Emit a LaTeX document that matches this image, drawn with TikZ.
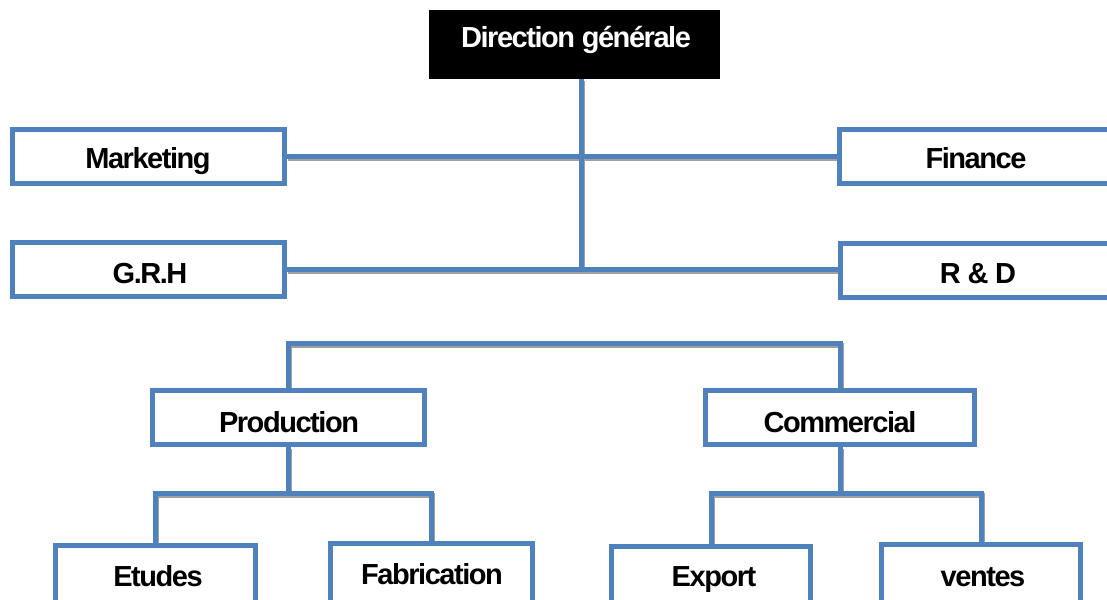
\documentclass[tikz,border=0pt]{standalone}
\usepackage{fontspec}
\setmainfont{Liberation Sans}
\newfontfamily\chartfont{Liberation Sans}[LetterSpace=-5]
\usetikzlibrary{calc}
\definecolor{orgblue}{HTML}{4F81BD}
\definecolor{linkshade}{HTML}{A0A0A0}
\begin{document}
\begin{tikzpicture}[x=1pt,y=-1pt,
  unit/.style={draw=orgblue, line width=5pt, fill=white, rectangle, inner sep=0pt},
  head/.style={fill=black, rectangle, inner sep=0pt},
  caption/.style={font=\chartfont\fontsize{29}{33}\selectfont\bfseries, anchor=base, inner sep=0pt},
  link/.style={draw=orgblue, line width=5pt},
  shade/.style={draw=linkshade, line width=5pt, transform canvas={xshift=1pt, yshift=-2pt}}]

\useasboundingbox (0,0) rectangle (1107,599);
\clip (0,0) rectangle (1107,599);
\fill[white] (0,0) rectangle (1107,599);

% junction points of the connectors
\coordinate (hub) at (581,268);
\coordinate (bar) at (560,343);
\coordinate (pbar) at (288.5,493);
\coordinate (cbar) at (840,493);

% boxes (placed first so connectors can refer to them)
\node[head, minimum width=291, minimum height=69] (dg) at (574.5,44.5) {};
\node[unit, minimum width=272, minimum height=54] (mkt) at (148.5,156.5) {};
\node[unit, minimum width=272, minimum height=54] (grh) at (148.5,269.5) {};
\node[unit, minimum width=273, minimum height=54] (fin) at (976,156.5) {};
\node[unit, minimum width=272, minimum height=54] (rd) at (976.5,270.5) {};
\node[unit, minimum width=272, minimum height=54] (prod) at (288.5,417.5) {};
\node[unit, minimum width=269, minimum height=54] (com) at (840,417.5) {};
\node[unit, minimum width=200, minimum height=70] (etu) at (155.5,580.5) {};
\node[unit, minimum width=202, minimum height=70] (fab) at (431.5,578.5) {};
\node[unit, minimum width=199, minimum height=70] (exp) at (711,581.5) {};
\node[unit, minimum width=199, minimum height=70] (ven) at (981,579.5) {};

% connectors: grey shadow first, then the blue line
\foreach \sty in {shade,link}{
  \path[\sty] (dg.south -| hub) -- (hub);
  \path[\sty] (mkt.east) -- (mkt.east -| fin.west);
  \path[\sty] (grh.east) -- (grh.east -| rd.west);
  \path[\sty] (prod.north) |- (bar) -| (com.north);
  \path[\sty] (prod.south) -- (pbar);
  \path[\sty] (etu.north) |- (pbar) -| (fab.north);
  \path[\sty] (com.south) -- (cbar);
  \path[\sty] (exp.north) |- (cbar) -| (ven.north);
}

% boxes drawn again on top so the line ends tuck under the borders
\node[head, minimum width=291, minimum height=69] at (dg) {};
\node[unit, minimum width=272, minimum height=54] at (mkt) {};
\node[unit, minimum width=272, minimum height=54] at (grh) {};
\node[unit, minimum width=273, minimum height=54] at (fin) {};
\node[unit, minimum width=272, minimum height=54] at (rd) {};
\node[unit, minimum width=272, minimum height=54] at (prod) {};
\node[unit, minimum width=269, minimum height=54] at (com) {};
\node[unit, minimum width=200, minimum height=70] at (etu) {};
\node[unit, minimum width=202, minimum height=70] at (fab) {};
\node[unit, minimum width=199, minimum height=70] at (exp) {};
\node[unit, minimum width=199, minimum height=70] at (ven) {};

% labels
\node[caption, text=white] (dg-t) at (576,48) {Direction générale};
\node[caption] (mkt-t) at (148,168) {Marketing};
\node[caption] (fin-t) at (976,168) {Finance};
\node[caption] (grh-t) at (150,283) {G.R.H};
\node[caption] (rd-t) at (978,283) {R \& D};
\node[caption] (prod-t) at (289,432) {Production};
\node[caption] (com-t) at (840,432) {Commercial};
\node[caption] (etu-t) at (158,586) {Etudes};
\node[caption] (fab-t) at (432,584) {Fabrication};
\node[caption] (exp-t) at (714,586) {Export};
\node[caption] (ven-t) at (983,586) {ventes};
\end{tikzpicture}
\end{document}
